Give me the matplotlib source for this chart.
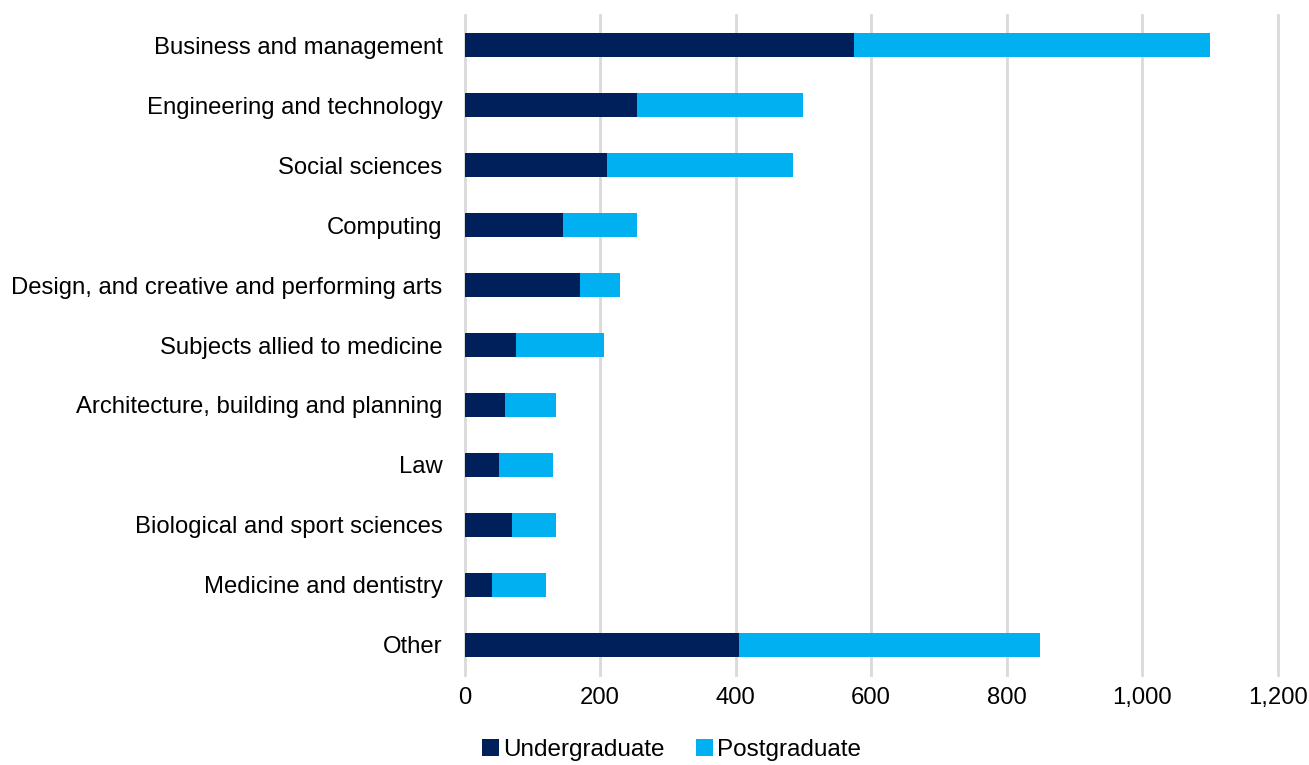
import matplotlib
matplotlib.use("Agg")
import matplotlib.pyplot as plt
import numpy as np

# Subjects, top to bottom as shown in the chart
subjects = [
    "Business and management",
    "Engineering and technology",
    "Social sciences",
    "Computing",
    "Design, and creative and performing arts",
    "Subjects allied to medicine",
    "Architecture, building and planning",
    "Law",
    "Biological and sport sciences",
    "Medicine and dentistry",
    "Other",
]
undergraduate = [575, 255, 210, 145, 170, 75, 60, 50, 70, 40, 405]
postgraduate = [525, 245, 275, 110, 60, 130, 75, 80, 65, 80, 445]

x_ticks = [0, 200, 400, 600, 800, 1000, 1200]
x_tick_labels = ["0", "200", "400", "600", "800", "1,000", "1,200"]

UG_COLOR = "#00205B"
PG_COLOR = "#00B0F0"


def main():
    plt.rcParams["font.family"] = ["Liberation Sans", "DejaVu Sans"]

    fig = plt.figure(figsize=(13.09, 7.65), dpi=100)
    ax = fig.add_axes([0.355, 0.118, 0.621, 0.862])

    y = np.arange(len(subjects))
    ax.barh(y, undergraduate, height=0.4, color=UG_COLOR, label="Undergraduate", zorder=3)
    ax.barh(y, postgraduate, left=undergraduate, height=0.4, color=PG_COLOR,
            label="Postgraduate", zorder=3)

    ax.set_ylim(len(subjects) - 0.5, -0.5)
    ax.set_yticks(y)
    ax.set_yticklabels(subjects, fontsize=17.2)
    ax.set_xlim(0, 1200)
    ax.set_xticks(x_ticks)
    ax.set_xticklabels(x_tick_labels, fontsize=17.2)
    ax.tick_params(axis="y", length=0, pad=16)
    ax.tick_params(axis="x", length=0, pad=9)

    ax.grid(axis="x", color="#D9D9D9", linewidth=2, zorder=0)
    for line in ax.get_xgridlines():
        line.set_clip_on(False)
    for s in ax.spines.values():
        s.set_visible(False)

    # legend sits at the very bottom edge, kept just inside the figure
    fig.legend(loc="center", bbox_to_anchor=(0.513, 0.019), ncol=2, frameon=False,
               fontsize=17.5, handlelength=0.7, handleheight=0.7, handletextpad=0.15,
               columnspacing=1.3, borderpad=0.1)

    fig.savefig("out.png", dpi=100)


if __name__ == "__main__":
    main()
